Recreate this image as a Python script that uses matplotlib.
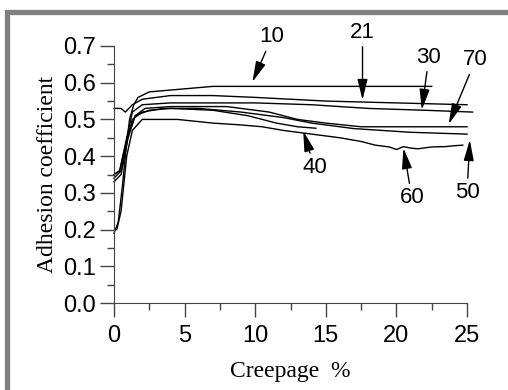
import matplotlib.pyplot as plt
from matplotlib.patches import Rectangle

# adhesion curves, creepage % vs adhesion coefficient
x10 = [0.0, 0.3, 0.6, 0.8, 1.1, 1.4, 1.7, 2.5, 4, 7, 12, 18, 22.5]
y10 = [0.19, 0.22, 0.32, 0.40, 0.50, 0.54, 0.56, 0.575, 0.58, 0.59, 0.59, 0.59, 0.59]

x21 = [0.0, 0.5, 0.8, 1.3, 2, 4, 7, 10, 15, 20, 25]
y21 = [0.53, 0.53, 0.52, 0.54, 0.555, 0.565, 0.565, 0.56, 0.55, 0.545, 0.54]

x30 = [0.0, 0.4, 0.9, 1.3, 2, 4, 10, 14, 18, 22, 25.4]
y30 = [0.35, 0.36, 0.45, 0.52, 0.54, 0.545, 0.545, 0.54, 0.53, 0.525, 0.52]

x40 = [0.0, 0.4, 1.0, 1.5, 2.5, 4, 7, 9.5, 11.5, 13, 14.3]
y40 = [0.35, 0.36, 0.46, 0.51, 0.525, 0.53, 0.525, 0.51, 0.49, 0.48, 0.476]

x50 = [0.0, 0.5, 0.9, 1.3, 2, 3.5, 6, 9, 12, 14, 17, 21, 25]
y50 = [0.34, 0.36, 0.44, 0.50, 0.52, 0.53, 0.53, 0.52, 0.505, 0.49, 0.475, 0.465, 0.46]

x60 = [0.2, 0.5, 0.9, 1.3, 2, 4.5, 7, 9, 10.5, 12, 14, 16, 17.5, 18.5, 19.5,
       20, 20.5, 21, 21.5, 22.5, 23.5, 24, 24.7]
y60 = [0.20, 0.25, 0.40, 0.47, 0.50, 0.50, 0.49, 0.485, 0.48, 0.47, 0.46, 0.45,
       0.44, 0.43, 0.425, 0.418, 0.426, 0.422, 0.42, 0.425, 0.426, 0.428, 0.43]

x70 = [0.0, 0.5, 1.0, 1.5, 2.2, 4, 8, 11, 13, 15, 17.5, 25]
y70 = [0.33, 0.35, 0.45, 0.51, 0.53, 0.535, 0.535, 0.52, 0.50, 0.49, 0.48, 0.48]

curves = [(x10, y10), (x21, y21), (x30, y30), (x40, y40),
          (x50, y50), (x60, y60), (x70, y70)]

# label text, text position, arrow tip
labels = ['10', '21', '30', '70', '40', '60', '50']
text_xy = [(11.2, 0.725), (17.6, 0.738), (22.3, 0.67), (25.6, 0.662),
           (14.2, 0.368), (21.1, 0.286), (25.0, 0.30)]
tip_xy = [(9.8, 0.602), (17.6, 0.553), (21.8, 0.526), (23.7, 0.487),
          (13.4, 0.469), (20.5, 0.422), (25.2, 0.444)]

fig = plt.figure(figsize=(5.08, 3.9), dpi=100)
fig.patches.append(Rectangle((7 / 508, -0.1), 1.2, 1 - 12 / 390 + 0.1,
                             transform=fig.transFigure, fill=False,
                             edgecolor='#808080', linewidth=3.8))

ax = fig.add_axes([114 / 508, 1 - 303 / 390, 353 / 508, 257 / 390])
for xs, ys in curves:
    ax.plot(xs, ys, color='black', lw=1.0, clip_on=False)

for lab, txy, tip in zip(labels, text_xy, tip_xy):
    ax.annotate(lab, xy=tip, xytext=txy, ha='center', va='center',
                fontsize=16, family='Liberation Sans', annotation_clip=False,
                arrowprops=dict(arrowstyle='-|>,head_length=0.9,head_width=0.22',
                                color='black', lw=1.0,
                                mutation_scale=14, shrinkA=1, shrinkB=0))

ax.set_xlim(0, 25)
ax.set_ylim(0, 0.7)
ax.spines['top'].set_visible(False)
ax.spines['right'].set_visible(False)
ax.spines['left'].set_color('#444444')
ax.spines['bottom'].set_color('#444444')
ax.set_xticks([0, 5, 10, 15, 20, 25])
ax.set_xticks([2.5, 7.5, 12.5, 17.5, 22.5], minor=True)
ax.set_yticks([0.0, 0.1, 0.2, 0.3, 0.4, 0.5, 0.6, 0.7])
ax.set_yticks([0.05, 0.15, 0.25, 0.35, 0.45, 0.55, 0.65], minor=True)
ax.set_yticklabels(['0.0', '0.1', '0.2', '0.3', '0.4', '0.5', '0.6', '0.7'])
ax.tick_params(which='major', length=10, width=1, color='#444444',
               labelsize=17, pad=3)
ax.tick_params(axis='x', which='major', pad=6)
ax.tick_params(which='minor', length=5, width=1, color='#444444')
for t in ax.get_xticklabels() + ax.get_yticklabels():
    t.set_family('Liberation Sans')

ax.set_xlabel('Creepage  %', family='Liberation Serif', fontsize=17, labelpad=10)
ax.set_ylabel('Adhesion coefficient', family='Liberation Serif', fontsize=17,
              labelpad=4)

fig.savefig('out.png', dpi=100)
